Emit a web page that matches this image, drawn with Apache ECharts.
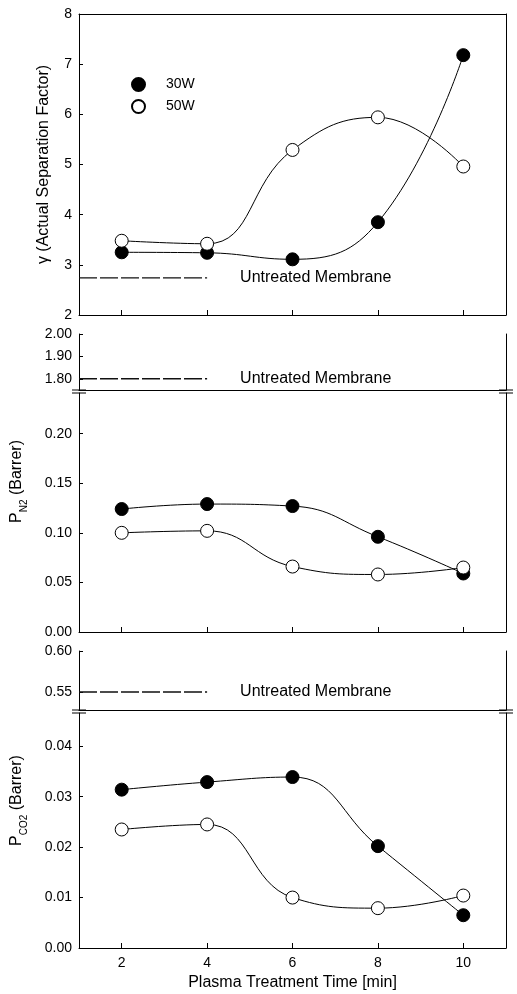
<!DOCTYPE html>
<html><head><meta charset="utf-8">
<script src="https://cdn.jsdelivr.net/npm/echarts@6/dist/echarts.min.js"></script>
<style>html,body{margin:0;padding:0;background:#fff}#c{width:517px;height:994px}</style>
</head><body><div id="c"></div>
<script>
// ---- data ----
const times = [2, 4, 6, 8, 10];
const xTicks = [2, 4, 6, 8, 10];
const gamma30 = [3.25, 3.24, 3.11, 3.85, 7.18];
const gamma50 = [3.48, 3.42, 5.29, 5.94, 4.96];
const pN2_30 = [0.124, 0.129, 0.127, 0.096, 0.059];
const pN2_50 = [0.100, 0.102, 0.066, 0.058, 0.065];
const pCO2_30 = [0.0314, 0.0329, 0.0339, 0.0202, 0.0065];
const pCO2_50 = [0.0235, 0.0245, 0.0100, 0.0079, 0.0104];
const untreatedGamma = 2.74;
const untreatedN2 = 1.80;
const untreatedCO2 = 0.55;
const untreatedSpan = [1, 4];
const gammaTicks = [2, 3, 4, 5, 6, 7, 8];
const n2HighTicks = [1.80, 1.90, 2.00];
const n2LowTicks = [0, 0.05, 0.10, 0.15, 0.20];
const co2HighTicks = [0.55, 0.60];
const co2LowTicks = [0, 0.01, 0.02, 0.03, 0.04];

// ---- layout ----
const FONT = 'Arial, "Liberation Sans", Helvetica, sans-serif';
const L = 79, R = 506, W = 517;
const G = [
  {top: 14, height: 301},   // gamma
  {top: 334, height: 56},   // N2 upper
  {top: 393, height: 239},  // N2 lower
  {top: 651, height: 59},   // CO2 upper
  {top: 713, height: 235}   // CO2 lower
];
const grids = G.map(g => ({left: L, right: W - R, top: g.top, height: g.height, containLabel: false, outerBoundsMode: 'none'}));

const axLine = {show: true, lineStyle: {color: '#000', width: 1}};
function xAx(gi, pos, withTicks, withLabels, extra) {
  return Object.assign({
    type: 'value', gridIndex: gi, position: pos, min: 1, max: 11,
    axisLine: axLine,
    axisTick: {show: withTicks, inside: true, length: 5, customValues: xTicks, lineStyle: {color: '#000'}},
    axisLabel: {show: withLabels, customValues: xTicks, color: '#000', fontSize: 14, fontFamily: FONT, margin: 8},
    splitLine: {show: false}
  }, extra || {});
}
function yLeft(gi, min, max, ticks, extra) {
  return Object.assign({
    type: 'value', gridIndex: gi, position: 'left', min: min, max: max,
    axisLine: axLine,
    axisTick: {show: true, inside: true, length: 4, customValues: ticks, lineStyle: {color: '#000'}},
    axisLabel: {show: true, customValues: ticks, color: '#000', fontSize: 14, fontFamily: FONT, margin: 7,
      formatter: v => gi === 0 ? String(v) : v.toFixed(2)},
    splitLine: {show: false}
  }, extra || {});
}
function yRight(gi) {
  return {type: 'value', gridIndex: gi, position: 'right', axisLine: axLine,
    axisTick: {show: false}, axisLabel: {show: false}, splitLine: {show: false}};
}

const nameStyle = {color: '#000', fontSize: 16, fontFamily: FONT};
const richName = {
  a: {fontSize: 16, fontFamily: FONT, color: '#000', lineHeight: 20},
  b: {fontSize: 10, fontFamily: FONT, color: '#000', lineHeight: 20, verticalAlign: 'bottom', padding: [0, 0, -2, 0]}
};

const xAxis = [
  xAx(0, 'bottom', true, false),
  xAx(0, 'top', false, false),
  xAx(1, 'top', false, false),
  xAx(2, 'bottom', true, false),
  xAx(3, 'top', false, false),
  xAx(4, 'bottom', true, true, {name: 'Plasma Treatment Time [min]', nameLocation: 'middle', nameGap: 27, nameTextStyle: nameStyle})
];
const yAxis = [
  yLeft(0, 2, 8, gammaTicks, {name: 'γ (Actual Separation Factor)', nameLocation: 'middle', nameRotate: 90, nameGap: 27, nameTextStyle: nameStyle}),
  yRight(0),
  yLeft(1, 1.75, 2.0, n2HighTicks),
  yRight(1),
  yLeft(2, 0, 0.241, n2LowTicks, {name: '{a|P}{b|N2}{a| (Barrer)}', nameLocation: 'middle', nameRotate: 90, nameGap: 52,
    nameTextStyle: {color: '#000', fontSize: 16, fontFamily: FONT, rich: richName, padding: [0, 0, 0, 62]}}),
  yRight(2),
  yLeft(3, 0.528, 0.60, co2HighTicks),
  yRight(3),
  yLeft(4, 0, 0.0466, co2LowTicks, {name: '{a|P}{b|CO2}{a| (Barrer)}', nameLocation: 'middle', nameRotate: 90, nameGap: 52,
    nameTextStyle: {color: '#000', fontSize: 16, fontFamily: FONT, rich: richName, padding: [0, 0, 0, 60]}}),
  yRight(4)
];

function pairs(vals) { return times.map((t, i) => [t, vals[i]]); }
function dataSeries(name, vals, xi, yi, filled) {
  return {
    type: 'line', name: name, xAxisIndex: xi, yAxisIndex: yi, data: pairs(vals),
    smooth: 0.45, symbol: 'circle', symbolSize: 13, showSymbol: true,
    lineStyle: {color: '#000', width: 1},
    itemStyle: filled ? {color: '#000', borderColor: '#000', borderWidth: 1} : {color: '#fff', borderColor: '#000', borderWidth: 1},
    z: filled ? 3 : 4
  };
}
function untreatedSeries(v, xi, yi) {
  return {
    type: 'line', name: 'Untreated', xAxisIndex: xi, yAxisIndex: yi,
    data: untreatedSpan.map(x => [x, v]), symbol: 'none', showSymbol: false,
    lineStyle: {color: '#111', width: 1.4, type: [18, 3]},
    endLabel: {show: true, formatter: 'Untreated Membrane', distance: 33, color: '#000', fontSize: 16, fontFamily: FONT},
    z: 2
  };
}

const series = [
  untreatedSeries(untreatedGamma, 0, 0),
  dataSeries('30W', gamma30, 0, 0, true),
  dataSeries('50W', gamma50, 0, 0, false),
  untreatedSeries(untreatedN2, 2, 2),
  dataSeries('30W', pN2_30, 3, 4, true),
  dataSeries('50W', pN2_50, 3, 4, false),
  untreatedSeries(untreatedCO2, 4, 6),
  dataSeries('30W', pCO2_30, 5, 8, true),
  dataSeries('50W', pCO2_50, 5, 8, false)
];

// axis-break marks (decoration) at the gaps between split grids
const graphic = [];
[[1, 2], [3, 4]].forEach(([u, l]) => {
  const yU = G[u].top + G[u].height, yL = G[l].top;
  [L, R].forEach(x => {
    [yU, yL].forEach(y => graphic.push({type: 'line', shape: {x1: x - 7, y1: y, x2: x + 7, y2: y}, style: {stroke: '#000', lineWidth: 1}, silent: true}));
  });
});

const option = {
  animation: false,
  backgroundColor: '#fff',
  textStyle: {fontFamily: FONT},
  grid: grids,
  xAxis: xAxis,
  yAxis: yAxis,
  legend: {
    data: ['30W', '50W'], orient: 'vertical', left: 126, top: 72, itemWidth: 13, itemHeight: 13, itemGap: 7,
    icon: 'circle', selectedMode: false,
    textStyle: {color: '#000', fontSize: 14, fontFamily: FONT, padding: [0, 0, 0, 16]}
  },
  series: series,
  graphic: graphic
};
const chart = echarts.init(document.getElementById('c'), null, {renderer: 'canvas'});
chart.setOption(option);
</script></body></html>
